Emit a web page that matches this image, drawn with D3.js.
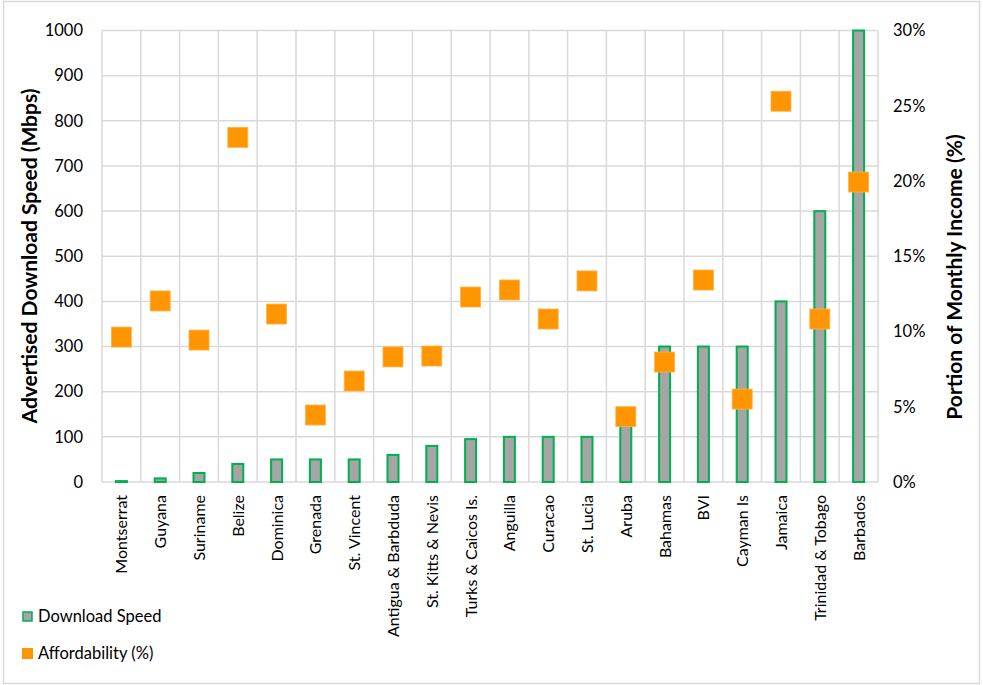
<!DOCTYPE html>
<html><head><meta charset="utf-8">
<script src="https://cdn.jsdelivr.net/npm/d3@7"></script>
<style>body{margin:0;background:#fff;} text{font-family:Lato,"Open Sans",sans-serif;}</style>
</head><body><svg id="c" width="983" height="685"></svg>
<script>
const categories = ["Montserrat","Guyana","Suriname","Belize","Dominica","Grenada","St. Vincent","Antigua & Barbduda","St. Kitts & Nevis","Turks & Caicos Is.","Anguilla","Curacao","St. Lucia","Aruba","Bahamas","BVI","Cayman Is","Jamaica","Trinidad & Tobago","Barbados"];
const downloadSpeed = [2,8,20,40,50,50,50,60,80,95,100,100,100,150,300,300,300,400,600,1000];
const affordability = [9.63,12.03,9.43,22.9,11.16,4.45,6.71,8.31,8.37,12.29,12.76,10.83,13.36,4.34,7.97,13.42,5.51,25.3,10.83,19.93];
const leftTicks = [0,100,200,300,400,500,600,700,800,900,1000];
const rightTicks = [0,5,10,15,20,25,30];

const svg = d3.select("#c");
const L=102, R=878, T=30.5, B=482;
svg.append("rect").attr("x",3.5).attr("y",1.5).attr("width",976).attr("height",682).attr("fill","#fff").attr("stroke","#d9d9d9").attr("stroke-width",1.5);

const x = d3.scaleBand().domain(categories).range([L,R]);
const yL = d3.scaleLinear().domain([0,1000]).range([B,T]);
const yR = d3.scaleLinear().domain([0,30]).range([B,T]);

const g = svg.append("g");
g.selectAll(".hg").data(leftTicks).join("line").attr("x1",L).attr("x2",R)
 .attr("y1",d=>yL(d)).attr("y2",d=>yL(d)).attr("stroke","#d9d9d9").attr("stroke-width",1.5);
const bounds = categories.map(c=>x(c)).concat([R]);
g.selectAll(".vg").data(bounds).join("line").attr("y1",T).attr("y2",B)
 .attr("x1",d=>d).attr("x2",d=>d).attr("stroke","#d9d9d9").attr("stroke-width",1.5);

const bw = 11;
g.selectAll(".bar").data(categories).join("rect")
 .attr("x",(c)=>x(c)+x.bandwidth()/2-bw/2)
 .attr("y",(c,i)=>yL(downloadSpeed[i]))
 .attr("width",bw)
 .attr("height",(c,i)=>B-yL(downloadSpeed[i]))
 .attr("fill","#a5a5a5").attr("stroke","#00b050").attr("stroke-width",2);

const ms = 20;
g.selectAll(".mk").data(categories).join("rect")
 .attr("x",c=>x(c)+x.bandwidth()/2-ms/2)
 .attr("y",(c,i)=>yR(affordability[i])-ms/2)
 .attr("width",ms).attr("height",ms)
 .attr("fill","#ff9500").attr("stroke","#ffb347").attr("stroke-width",0.8);

const la = svg.append("g").attr("transform",`translate(${L},0)`)
 .call(d3.axisLeft(yL).tickValues(leftTicks).tickSize(0).tickPadding(19).tickFormat(d3.format("d")));
la.select(".domain").remove();
la.selectAll("text").attr("font-size",16.5).attr("fill","#000").style("font-family","Lato,sans-serif");

const ra = svg.append("g").attr("transform",`translate(${R},0)`)
 .call(d3.axisRight(yR).tickValues(rightTicks).tickSize(0).tickPadding(15).tickFormat(d=>d+"%"));
ra.select(".domain").remove();
ra.selectAll("text").attr("font-size",16.5).attr("fill","#000").style("font-family","Lato,sans-serif");

const ba = svg.append("g").attr("transform",`translate(0,${B})`)
 .call(d3.axisBottom(x).tickSize(0).tickPadding(0));
ba.select(".domain").remove();
ba.selectAll("text").attr("font-size",16).attr("fill","#000")
 .attr("text-anchor","end").attr("dy",null)
 .attr("transform","translate(6,13) rotate(-90)").style("font-family","Lato,sans-serif");

svg.append("text").attr("transform","translate(37,256) rotate(-90)").attr("text-anchor","middle")
 .attr("font-size",21).attr("font-weight","bold").text("Advertised Download Speed (Mbps)");
svg.append("text").attr("transform","translate(962,277) rotate(-90)").attr("text-anchor","middle")
 .attr("font-size",21).attr("font-weight","bold").text("Portion of Monthly Income (%)");

const lg = svg.append("g");
lg.append("rect").attr("x",23).attr("y",612).attr("width",9).attr("height",9).attr("fill","#a5a5a5").attr("stroke","#00b050").attr("stroke-width",1.5);
lg.append("text").attr("x",38).attr("y",622).attr("font-size",16.5).text("Download Speed");
lg.append("rect").attr("x",22).attr("y",648).attr("width",11).attr("height",11).attr("fill","#ff9500");
lg.append("text").attr("x",38).attr("y",659).attr("font-size",16.5).text("Affordability (%)");
</script></body></html>
